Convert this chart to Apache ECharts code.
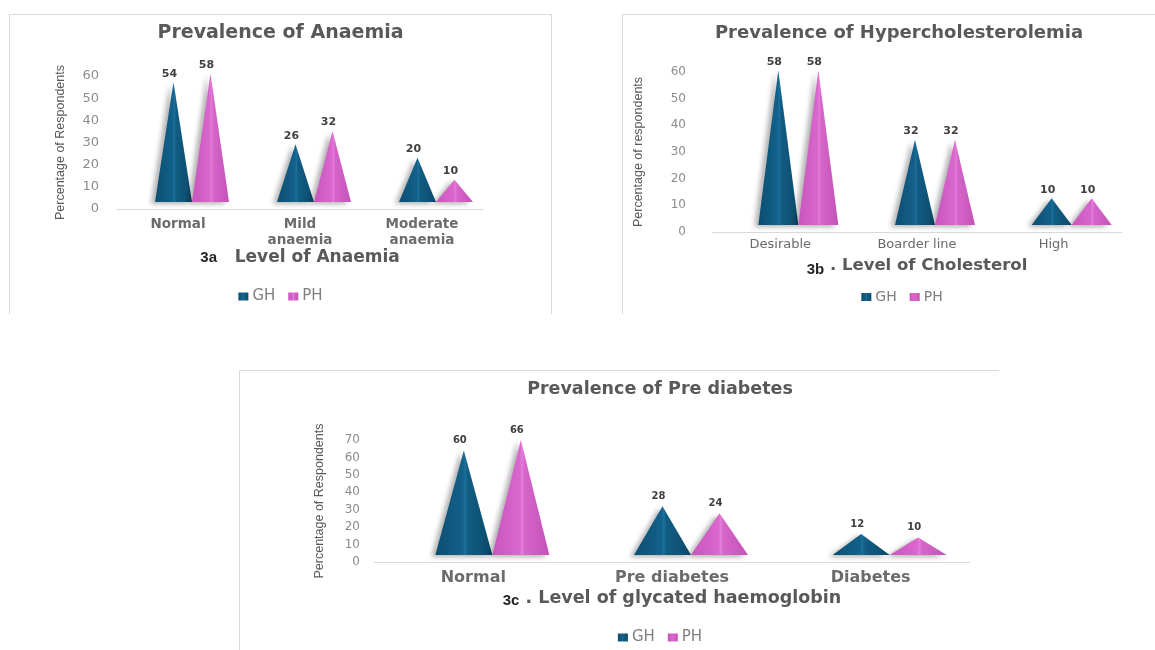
<!DOCTYPE html>
<html>
<head>
<meta charset="utf-8">
<title>Prevalence of Anaemia, Hypercholesterolemia and Pre diabetes</title>
<script src="https://cdn.jsdelivr.net/npm/echarts@6/dist/echarts.min.js"></script>
<style>
  html, body { margin: 0; padding: 0; background: #fff; }
  body { position: relative; width: 1155px; height: 650px; overflow: hidden; }
  .frame { position: absolute; box-sizing: border-box; border-left: 1px solid #d9d9d9; border-top: 1px solid #d9d9d9; }
  .chart { position: absolute; }
</style>
</head>
<body>
<div class="frame" style="left:9px;top:14px;width:543px;height:300px;border-right:1px solid #d9d9d9"></div>
<div class="frame" style="left:622px;top:14px;width:540px;height:300px"></div>
<div class="frame" style="left:239px;top:370px;width:760px;height:290px"></div>
<div id="c3a" class="chart" style="left:9px;top:14px;width:543px;height:300px"></div>
<div id="c3b" class="chart" style="left:622px;top:14px;width:560px;height:300px"></div>
<div id="c3c" class="chart" style="left:239px;top:370px;width:842px;height:280px"></div>

<script>
// 3a - anaemia
const anaemiaLevels = ['Normal', 'Mild anaemia', 'Moderate anaemia']
const anaemiaGH = [54, 26, 20]
const anaemiaPH = [58, 32, 10]

// 3b - cholesterol
const cholLevels = ['Desirable', 'Boarder line', 'High']
const cholGH = [58, 32, 10]
const cholPH = [58, 32, 10]

// 3c - glycated haemoglobin
const hbLevels = ['Normal', 'Pre diabetes', 'Diabetes']
const hbGH = [60, 28, 12]
const hbPH = [66, 24, 10]

const groups = ['GH', 'PH']
const ghColor = '#10597d'
const phColor = '#d862ca'

const conePath = 'path://M0,100 L50,0 L100,100 Z'
const wideFont = 'DejaVu Sans'
const armFont = "'Liberation Sans', Arial, sans-serif"

// horizontal shading to give the cones some roundness
const ghFill = new echarts.graphic.LinearGradient(0, 0, 1, 0, [
  { offset: 0, color: '#0c4e70' },
  { offset: 0.48, color: '#13618a' },
  { offset: 0.52, color: '#1c709b' },
  { offset: 0.57, color: '#115c83' },
  { offset: 1, color: '#0c4b6b' }
])
const phFill = new echarts.graphic.LinearGradient(0, 0, 1, 0, [
  { offset: 0, color: '#c755bb' },
  { offset: 0.48, color: '#d967cd' },
  { offset: 0.52, color: '#e47cd9' },
  { offset: 0.57, color: '#d665ca' },
  { offset: 1, color: '#c453b8' }
])

const cone = (name, values, fill, c) => ({
  name: name,
  type: 'pictorialBar',
  symbol: conePath,
  symbolSize: ['100%', '100%'],
  symbolOffset: [c.dx, -7],
  barWidth: c.barWidth,
  barGap: '0%',
  data: values,
  itemStyle: {
    color: fill,
    shadowColor: 'rgba(0,0,0,0.3)',
    shadowBlur: 5,
    shadowOffsetX: -4,
    shadowOffsetY: 2
  },
  label: {
    show: true,
    position: 'top',
    offset: [c.dx - 4, c.labelDy],
    color: '#404040',
    fontFamily: wideFont,
    fontWeight: 'bold',
    fontSize: c.valueSize
  }
})

const buildOption = (c) => ({
  animation: false,
  color: [ghColor, phColor],
  title: {
    text: c.title,
    left: c.titleLeft,
    textAlign: c.titleLeft === 'center' ? undefined : 'center',
    top: c.titleTop,
    textStyle: { fontFamily: wideFont, fontWeight: 'bold', fontSize: c.titleSize, color: '#595959' }
  },
  legend: {
    data: groups,
    left: 'center',
    top: c.legendTop,
    padding: 0,
    icon: 'rect',
    itemWidth: 10,
    itemHeight: 8,
    itemGap: 13,
    textStyle: { fontFamily: wideFont, fontSize: c.legendSize, color: '#7f7f7f', padding: [0, 0, 0, -1] }
  },
  grid: c.grid,
  xAxis: {
    type: 'category',
    data: c.levels,
    name: '{n|' + c.figNo + '}{t|' + c.axisTitle + '}',
    nameLocation: 'middle',
    nameGap: c.nameGap,
    nameTextStyle: {
      rich: {
        n: { fontFamily: armFont, fontWeight: 'bold', fontSize: 15, color: '#262626', padding: c.figPad },
        t: { fontFamily: wideFont, fontWeight: 'bold', fontSize: c.axisTitleSize, color: '#595959' }
      }
    },
    axisLine: { lineStyle: { color: '#d9d9d9', width: 1 } },
    axisTick: { show: false },
    axisLabel: {
      interval: 0,
      margin: c.catMargin,
      color: '#6b6b6b',
      fontFamily: wideFont,
      fontWeight: c.catWeight,
      fontSize: c.catSize,
      lineHeight: c.catSize + 2,
      formatter: c.wrap ? (v) => v.replace(' ', '\n') : (v) => v
    }
  },
  yAxis: {
    type: 'value',
    min: 0,
    max: c.max,
    interval: 10,
    name: c.yName,
    nameLocation: 'middle',
    nameGap: c.yNameGap,
    nameTextStyle: { fontFamily: armFont, fontSize: 12.5, color: '#595959' },
    axisLine: { show: false },
    axisTick: { show: false },
    splitLine: { show: false },
    axisLabel: { color: '#8c8c8c', fontFamily: wideFont, fontSize: c.tickSize, margin: c.tickMargin }
  },
  series: [
    cone('GH', c.gh, ghFill, c),
    cone('PH', c.ph, phFill, c)
  ]
})

const charts = [
  ['c3a', {
    title: 'Prevalence of Anaemia', titleLeft: 'center', titleSize: 19, titleTop: 5,
    levels: anaemiaLevels, gh: anaemiaGH, ph: anaemiaPH, max: 60,
    grid: { left: 108, top: 62, width: 366, height: 133 },
    figNo: '3a', axisTitle: '   Level of Anaemia', axisTitleSize: 17, figPad: [0, 0, 0, 0], nameGap: 40,
    yName: 'Percentage of Respondents', yNameGap: 50,
    tickSize: 13, tickMargin: 18, catSize: 13.5, catWeight: 'bold', catMargin: 8, wrap: true,
    barWidth: 37, dx: 14, valueSize: 11, labelDy: 2,
    legendSize: 15, legendTop: 275
  }],
  ['c3b', {
    title: 'Prevalence of Hypercholesterolemia', titleLeft: 272, titleSize: 18, titleTop: 5,
    levels: cholLevels, gh: cholGH, ph: cholPH, max: 60,
    grid: { left: 90, top: 58, width: 410, height: 160 },
    figNo: '3b', axisTitle: ' . Level of Cholesterol', axisTitleSize: 16.5, figPad: [8, 0, 0, 0], nameGap: 22,
    yName: 'Percentage of respondents', yNameGap: 67,
    tickSize: 12, tickMargin: 26, catSize: 13, catWeight: 'normal', catMargin: 5, wrap: false,
    barWidth: 40, dx: 18, valueSize: 11, labelDy: 2,
    legendSize: 14, legendTop: 276
  }],
  ['c3c', {
    title: 'Prevalence of Pre diabetes', titleLeft: 'center', titleSize: 17.5, titleTop: 5,
    levels: hbLevels, gh: hbGH, ph: hbPH, max: 70,
    grid: { left: 135, top: 70, width: 596, height: 122 },
    figNo: '3c', axisTitle: ' . Level of glycated haemoglobin', axisTitleSize: 17.5, figPad: [4, 0, 0, 0], nameGap: 27,
    yName: 'Percentage of Respondents', yNameGap: 48,
    tickSize: 12, tickMargin: 14, catSize: 16, catWeight: 'bold', catMargin: 7, wrap: false,
    barWidth: 57, dx: 19, valueSize: 10, labelDy: 0,
    legendSize: 15, legendTop: 260
  }]
]

charts.forEach(([id, cfg]) => {
  const chart = echarts.init(document.getElementById(id))
  chart.setOption(buildOption(cfg))
})
</script>
</body>
</html>
